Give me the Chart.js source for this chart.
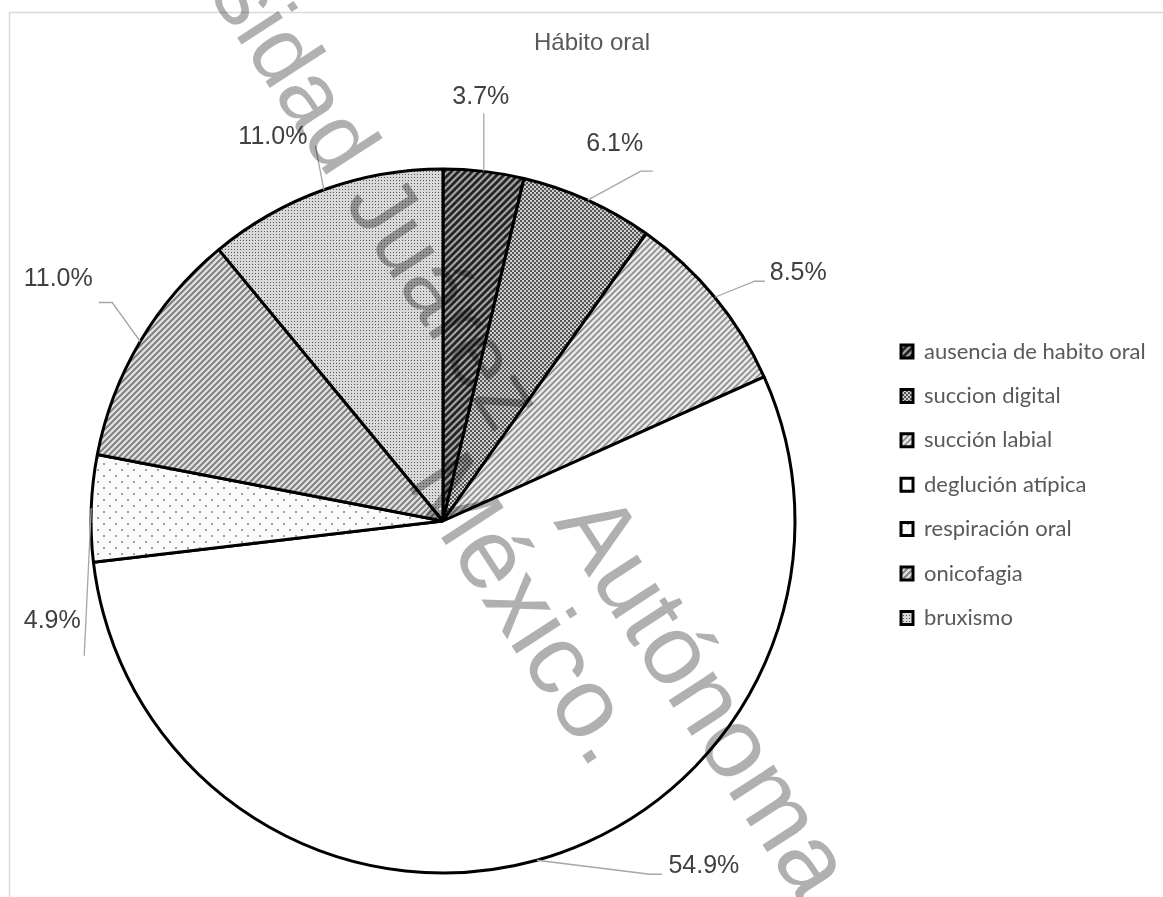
<!DOCTYPE html>
<html>
<head>
<meta charset="utf-8">
<script src="https://cdn.jsdelivr.net/npm/chart.js@4.4.0/dist/chart.umd.min.js"></script>
<style>
  html, body { margin: 0; padding: 0; background: #ffffff; overflow: hidden; }
  canvas { display: block; }
</style>
</head>
<body>
<canvas id="c" width="1163" height="897"></canvas>
<script>
// ---------------- data ----------------
const chartTitle = 'Hábito oral';
const categories = ['ausencia de habito oral', 'succion digital', 'succión labial', 'deglución atípica', 'respiración oral', 'onicofagia', 'bruxismo'];
const percentages = [3.7, 6.1, 8.5, 54.9, 4.9, 11.0, 11.0];
const valueLabels = percentages.map(p => p.toFixed(1) + '%');

// watermark text runs
const watermarkTexts = ['Universidad Juárez', 'Autónoma de Tabasco.', 'México.'];

// ---------------- patterns ----------------
const canvas = document.getElementById('c');
const mainCtx = canvas.getContext('2d');

function tile(size, draw) {
  const t = document.createElement('canvas');
  t.width = t.height = size;
  const g = t.getContext('2d');
  draw(g, size);
  return mainCtx.createPattern(t, 'repeat');
}
function stripes(bg, fg, size, w, dir) {
  return tile(size, (g, s) => {
    g.fillStyle = bg; g.fillRect(0, 0, s, s);
    g.strokeStyle = fg; g.lineWidth = w; g.beginPath();
    for (let k = -1; k <= 1; k++) {
      if (dir > 0) { g.moveTo(k * s - 1, s + 1); g.lineTo(k * s + s + 1, -1); }
      else { g.moveTo(k * s - 1, -1); g.lineTo(k * s + s + 1, s + 1); }
    }
    g.stroke();
  });
}
function dots(bg, fg, size, pts, d) {
  return tile(size, (g, s) => {
    g.fillStyle = bg; g.fillRect(0, 0, s, s);
    g.fillStyle = fg;
    pts.forEach(p => g.fillRect(p[0], p[1], d, d));
  });
}

const fills = [
  stripes('#a4a4a4', '#242424', 7, 2.8, 1),          // ausencia
  dots('#cfcfcf', '#555555', 4, [[0, 0], [2, 2]], 2), // succion digital
  stripes('#e8e8e8', '#8a8a8a', 6, 1.6, 1),           // succión labial
  '#ffffff',                                          // deglución atípica
  dots('#fbfbfb', '#a0a0a0', 12, [[1, 1], [7, 7]], 2),// respiración oral
  stripes('#dedede', '#7a7a7a', 6, 1.8, 1),           // onicofagia
  dots('#d8d8d8', '#5a5a5a', 3, [[0, 0]], 1)          // bruxismo
];

// ---------------- layout helpers ----------------
const legendFont = { family: 'Lato', size: 22 };
const legendPad = 22.4, legendBoxW = 12, legendBoxH = 13;
mainCtx.font = legendFont.size + 'px ' + legendFont.family;
const maxTextW = Math.max(...categories.map(c => mainCtx.measureText(c).width));
const legendWidth = legendPad + legendBoxW + legendFont.size / 2 + maxTextW + 10;
const legendLeft = 901 - legendPad;
const padRight = 1163 - legendLeft - legendWidth;
const padLeft = 2 * 443 - legendLeft;

// ---------------- plugins ----------------
const framePlugin = {
  id: 'frame',
  beforeDraw(chart) {
    const ctx = chart.ctx;
    ctx.save();
    ctx.fillStyle = '#ffffff';
    ctx.fillRect(0, 0, chart.width, chart.height);
    ctx.strokeStyle = '#d9d9d9';
    ctx.lineWidth = 1.5;
    ctx.beginPath();
    ctx.moveTo(9.5, chart.height);
    ctx.lineTo(9.5, 12.5);
    ctx.lineTo(chart.width, 12.5);
    ctx.stroke();
    ctx.restore();
  }
};

const placePlugin = {
  id: 'place',
  afterLayout(chart) {
    const t = chart.titleBlock;
    if (t) { const dx = 592 - (t.left + t.right) / 2; t.left += dx; t.right += dx; }
    const l = chart.legend;
    if (l && l.columnSizes && l.columnSizes.length) {
      const colH = l.columnSizes[0].height;
      const cur = ((l.top + legendPad) + (l.bottom - colH)) / 2;
      const dy = 340.5 - cur; l.top += dy; l.bottom += dy;
      const dx = legendLeft - l.left; l.left += dx; l.right += dx;
    }
  }
};

const labelPlugin = {
  id: 'pieLabels',
  afterDatasetsDraw(chart, args, opts) {
    const ctx = chart.ctx;
    const meta = chart.getDatasetMeta(0);
    ctx.save();
    meta.data.forEach((arc, i) => {
      const p = arc.getProps(['x', 'y', 'startAngle', 'endAngle', 'outerRadius'], true);
      const mid = (p.startAngle + p.endAngle) / 2;
      const ax = p.x + p.outerRadius * Math.cos(mid);
      const ay = p.y + p.outerRadius * Math.sin(mid);
      const o = opts.placements[i];
      ctx.strokeStyle = opts.lineColor;
      ctx.lineWidth = opts.lineWidth;
      ctx.beginPath();
      ctx.moveTo(ax, ay);
      o.path.forEach(q => ctx.lineTo(ax + q[0], ay + q[1]));
      ctx.stroke();
      ctx.fillStyle = opts.color;
      ctx.font = opts.font;
      ctx.textAlign = 'center';
      ctx.textBaseline = 'middle';
      ctx.fillText(valueLabels[i], ax + o.text[0], ay + o.text[1]);
    });
    ctx.restore();
  }
};

const watermarkPlugin = {
  id: 'watermark',
  afterDraw(chart, args, opts) {
    const ctx = chart.ctx;
    ctx.save();
    ctx.globalCompositeOperation = 'multiply';
    ctx.fillStyle = opts.color;
    ctx.textAlign = 'left';
    ctx.textBaseline = 'alphabetic';
    opts.runs.forEach((r, i) => {
      ctx.save();
      ctx.font = r.size + 'px "Liberation Sans"';
      ctx.translate(r.x, r.y);
      ctx.rotate(r.angle * Math.PI / 180);
      ctx.fillText(watermarkTexts[i], 0, 0);
      ctx.restore();
    });
    ctx.restore();
  }
};

// ---------------- chart ----------------
new Chart(canvas, {
  type: 'pie',
  data: {
    labels: categories,
    datasets: [{
      data: percentages,
      backgroundColor: fills,
      borderColor: '#000000',
      borderWidth: 3,
      hoverOffset: 0,
      radius: 352
    }]
  },
  options: {
    responsive: false,
    animation: false,
    devicePixelRatio: 1,
    layout: { padding: { left: padLeft, right: padRight, top: 0, bottom: 0 } },
    plugins: {
      tooltip: { enabled: false },
      title: {
        display: true,
        text: chartTitle,
        color: '#595959',
        font: { family: 'Liberation Sans', size: 24, weight: 'normal' },
        padding: { top: 28.6, bottom: 87.6 }
      },
      legend: {
        position: 'right',
        labels: {
          boxWidth: legendBoxW,
          boxHeight: legendBoxH,
          padding: legendPad,
          color: '#595959',
          font: legendFont
        }
      },
      pieLabels: {
        color: '#404040',
        font: '25px "Liberation Sans"',
        lineColor: '#a6a6a6',
        lineWidth: 1.3,
        placements: [
          { text: [-3, -74], path: [[0, -58]] },
          { text: [27, -56], path: [[53, -29], [65, -29]] },
          { text: [83.5, -24.5], path: [[40, -16], [50, -16]] },
          { text: [167, 6], path: [[113, 14], [125, 14]] },
          { text: [-39, 112.5], path: [[-7, 147.5]] },
          { text: [-82, -62.7], path: [[-28, -39], [-41.5, -39]] },
          { text: [-51, -53], path: [[-8.5, -44]] }
        ]
      },
      watermark: {
        color: '#b0b0b0',
        runs: [
          { x: 62, y: -232, size: 93, angle: 57 },
          { x: 553, y: 522, size: 100, angle: 57 },
          { x: 405, y: 482, size: 100, angle: 57 }
        ]
      }
    }
  },
  plugins: [framePlugin, placePlugin, labelPlugin, watermarkPlugin]
});
</script>
</body>
</html>
